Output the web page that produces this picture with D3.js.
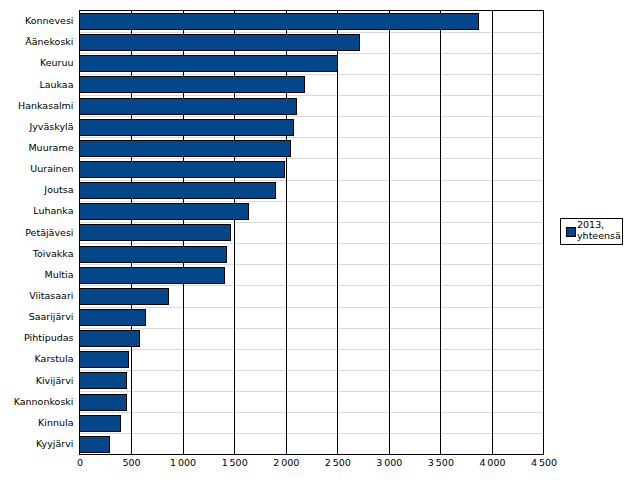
<!DOCTYPE html>
<html><head><meta charset="utf-8">
<script src="https://cdn.jsdelivr.net/npm/d3@7"></script>
<style>body{margin:0;background:#fff;} svg{display:block;font-family:"DejaVu Sans",sans-serif;}</style>
</head><body>
<svg id="c" width="640" height="480"></svg>
<script>
const categories = ["Konnevesi","Äänekoski","Keuruu","Laukaa","Hankasalmi","Jyväskylä","Muurame","Uurainen","Joutsa","Luhanka","Petäjävesi","Toivakka","Multia","Viitasaari","Saarijärvi","Pihtipudas","Karstula","Kivijärvi","Kannonkoski","Kinnula","Kyyjärvi"];
const values = [3870,2717,2500,2180,2103,2074,2048,1990,1903,1641,1463,1428,1409,866,643,585,479,459,458,401,295];
const xTicks = [0,500,1000,1500,2000,2500,3000,3500,4000,4500];
const seriesName = ["2013,","yhteensä"];

const svg = d3.select("#c");
const L = 79.5, R = 543.5, T = 10.5, B = 454.5;
const x = d3.scaleLinear().domain([0,4500]).range([L,R]);
const y = d3.scaleBand().domain(categories).range([T,B]).paddingInner(0.24).paddingOuter(0.12);
const fmt = v => d3.format(",")(v).replace(/,/g,"\u2009");

// horizontal band gridlines
const step = y.step();
svg.append("g").selectAll("line").data(categories.slice(1)).join("line")
  .attr("x1",L).attr("x2",R)
  .attr("y1",(d)=>Math.round(y(d)-y.paddingInner()*step/2)+0.5)
  .attr("y2",(d)=>Math.round(y(d)-y.paddingInner()*step/2)+0.5)
  .attr("stroke","#d8d8d8").attr("stroke-width",1);

// vertical gridlines
svg.append("g").selectAll("line").data(xTicks.slice(1,-1)).join("line")
  .attr("x1",d=>Math.round(x(d))+0.5).attr("x2",d=>Math.round(x(d))+0.5)
  .attr("y1",T).attr("y2",B).attr("stroke","#000").attr("stroke-width",1);

// bars
svg.append("g").selectAll("rect").data(categories).join("rect")
  .attr("x",x(0)).attr("y",(d)=>Math.round(y(d))+0.5)
  .attr("width",(d,i)=>Math.round(x(values[i])-x(0)))
  .attr("height",Math.round(y.bandwidth()))
  .attr("fill","#03478a").attr("stroke","#000").attr("stroke-width",1);

// frame
svg.append("rect").attr("x",L).attr("y",T).attr("width",R-L).attr("height",B-T)
  .attr("fill","none").attr("stroke","#000").attr("stroke-width",1);

// x axis
const xa = d3.axisBottom(x).tickValues(xTicks).tickSize(0).tickPadding(5).tickFormat(fmt);
const gx = svg.append("g").attr("transform",`translate(0,${B})`).call(xa);
gx.select(".domain").remove();
gx.selectAll("text").attr("font-size","9.5px").attr("font-family","DejaVu Sans, sans-serif").attr("fill","#000");

// y axis
const ya = d3.axisLeft(y).tickSize(0).tickPadding(6);
const gy = svg.append("g").attr("transform",`translate(${L},0)`).call(ya);
gy.select(".domain").remove();
gy.selectAll("text").attr("font-size","9.5px").attr("font-family","DejaVu Sans, sans-serif").attr("fill","#000");

// legend
const lg = svg.append("g");
lg.append("rect").attr("x",560.5).attr("y",218.5).attr("width",62).attr("height",26)
  .attr("fill","#fff").attr("stroke","#000");
lg.append("rect").attr("x",566.5).attr("y",227.5).attr("width",9).attr("height",9)
  .attr("fill","#03478a").attr("stroke","#000");
lg.selectAll("text").data(seriesName).join("text")
  .attr("x",577).attr("y",(d,i)=>228+i*11)
  .attr("font-size","9.5px").text(d=>d);
</script>
</body></html>
